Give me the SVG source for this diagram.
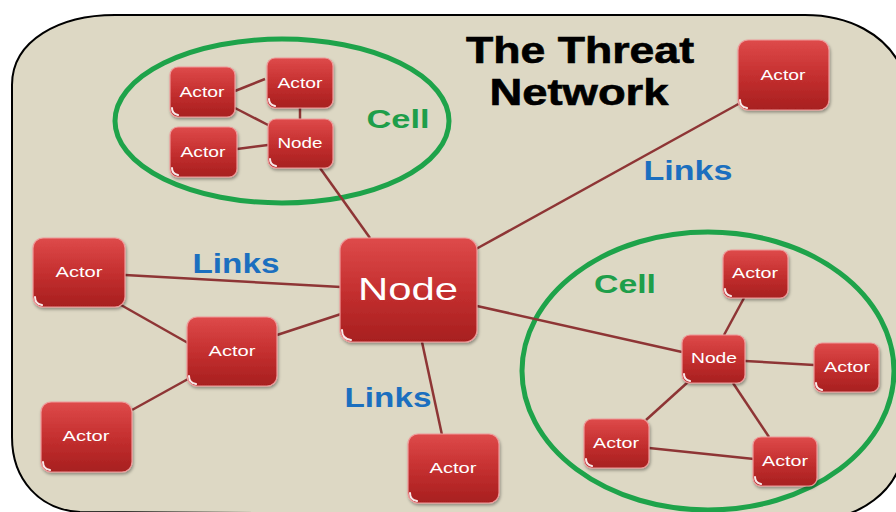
<svg xmlns="http://www.w3.org/2000/svg" width="896" height="512" viewBox="0 0 896 512">
<defs>
<linearGradient id="red" x1="0" y1="0" x2="0" y2="1">
<stop offset="0" stop-color="#de4a4a"/>
<stop offset="0.5" stop-color="#c53030"/>
<stop offset="1" stop-color="#a71f1f"/>
</linearGradient>
<filter id="sh" x="-20%" y="-20%" width="140%" height="140%">
<feDropShadow dx="1" dy="2" stdDeviation="1.5" flood-color="#000" flood-opacity="0.35"/>
</filter>
</defs>
<style>
.box{fill:url(#red);stroke:#ef9a9a;stroke-width:1.2;filter:url(#sh)}
.hl{fill:none;stroke:#fff;stroke-width:2;stroke-linecap:round;opacity:0.9}
.lbl{font-family:"Liberation Sans",Arial,sans-serif;fill:#fff;text-anchor:middle}
.ln{stroke:#8e3535;stroke-width:2.5;fill:none}
.cell{fill:none;stroke:#1ea34a;stroke-width:5}
.green{font-family:"Liberation Sans",Arial,sans-serif;font-weight:bold;fill:#1e9e4a;font-size:26px}
.blue{font-family:"Liberation Sans",Arial,sans-serif;font-weight:bold;fill:#1b6fbf;font-size:27px}
.title{font-family:"Liberation Sans",Arial,sans-serif;font-weight:bold;fill:#000;font-size:36px;stroke:#000;stroke-width:0.6}
</style>
<rect width="896" height="512" fill="#fff"/>
<path d="M12,85 C12,40 60,15 115,15 L805,15 C850,15 885,35 900,65 L900,465 C890,495 860,512 840,516 L80,512 C40,510 12,480 12,437 Z" fill="#ddd8c4" stroke="#000" stroke-width="2"/>
<g id="cells">
<ellipse class="cell" cx="282" cy="121" rx="167" ry="82"/>
<ellipse class="cell" cx="708" cy="371" rx="186" ry="139"/>
</g>
<g id="connectors">
<line class="ln" x1="235" y1="91" x2="265" y2="79"/>
<line class="ln" x1="235" y1="108" x2="270" y2="126"/>
<line class="ln" x1="300" y1="108" x2="300" y2="119"/>
<line class="ln" x1="237" y1="149" x2="268" y2="145"/>
<line class="ln" x1="320" y1="168" x2="370" y2="238"/>
<line class="ln" x1="476" y1="249" x2="742" y2="102"/>
<line class="ln" x1="125" y1="275" x2="341" y2="287"/>
<line class="ln" x1="121" y1="305" x2="188" y2="343"/>
<line class="ln" x1="277" y1="335" x2="341" y2="314"/>
<line class="ln" x1="188" y1="379" x2="132" y2="410"/>
<line class="ln" x1="422" y1="342" x2="442" y2="435"/>
<line class="ln" x1="477" y1="306" x2="682" y2="352"/>
<line class="ln" x1="724" y1="335" x2="744" y2="298"/>
<line class="ln" x1="745" y1="361" x2="814" y2="365"/>
<line class="ln" x1="688" y1="382" x2="646" y2="420"/>
<line class="ln" x1="733" y1="383" x2="769" y2="437"/>
<line class="ln" x1="649" y1="448" x2="754" y2="459"/>
</g>
<g id="title"><text class="title" x="580" y="63" text-anchor="middle" textLength="228" lengthAdjust="spacingAndGlyphs">The Threat</text>
<text class="title" x="579" y="105" text-anchor="middle" textLength="179" lengthAdjust="spacingAndGlyphs">Network</text></g>
<g id="labels">
<text class="green" x="398" y="128" text-anchor="middle" textLength="63" lengthAdjust="spacingAndGlyphs">Cell</text>
<text class="green" x="625" y="293" text-anchor="middle" textLength="62" lengthAdjust="spacingAndGlyphs">Cell</text>
<text class="blue" x="688" y="180" text-anchor="middle" textLength="89" lengthAdjust="spacingAndGlyphs">Links</text>
<text class="blue" x="236" y="273" text-anchor="middle" textLength="87" lengthAdjust="spacingAndGlyphs">Links</text>
<text class="blue" x="388" y="407" text-anchor="middle" textLength="87" lengthAdjust="spacingAndGlyphs">Links</text>
</g>
<g id="c1-actor1"><rect class="box" x="170" y="67" width="65" height="50" rx="8"/><path class="hl" d="M172,108 Q172,114 178,115"/><text class="lbl" x="202" y="97" font-size="15" textLength="45" lengthAdjust="spacingAndGlyphs">Actor</text></g>
<g id="c1-actor2"><rect class="box" x="267" y="58" width="66" height="50" rx="8"/><path class="hl" d="M269,99 Q269,105 275,106"/><text class="lbl" x="300" y="88" font-size="15" textLength="45" lengthAdjust="spacingAndGlyphs">Actor</text></g>
<g id="c1-actor3"><rect class="box" x="170" y="127" width="67" height="50" rx="8"/><path class="hl" d="M172,168 Q172,174 178,175"/><text class="lbl" x="203" y="157" font-size="15" textLength="45" lengthAdjust="spacingAndGlyphs">Actor</text></g>
<g id="c1-node"><rect class="box" x="268" y="119" width="65" height="49" rx="8"/><path class="hl" d="M270,159 Q270,165 276,166"/><text class="lbl" x="300" y="148" font-size="15" textLength="45" lengthAdjust="spacingAndGlyphs">Node</text></g>
<g id="main-node"><rect class="box" x="340" y="238" width="137" height="104" rx="12"/><path class="hl" d="M342,330 Q342,339 351,340"/><text class="lbl" x="408" y="300" font-size="32" textLength="100" lengthAdjust="spacingAndGlyphs">Node</text></g>
<g id="tr-actor"><rect class="box" x="738" y="40" width="91" height="70" rx="10"/><path class="hl" d="M740,100 Q740,107 747,108"/><text class="lbl" x="783" y="80" font-size="15" textLength="45" lengthAdjust="spacingAndGlyphs">Actor</text></g>
<g id="l-actor1"><rect class="box" x="33" y="238" width="92" height="69" rx="10"/><path class="hl" d="M35,297 Q35,304 42,305"/><text class="lbl" x="79" y="277" font-size="15" textLength="47" lengthAdjust="spacingAndGlyphs">Actor</text></g>
<g id="l-actor2"><rect class="box" x="187" y="317" width="90" height="69" rx="10"/><path class="hl" d="M189,376 Q189,383 196,384"/><text class="lbl" x="232" y="356" font-size="15" textLength="47" lengthAdjust="spacingAndGlyphs">Actor</text></g>
<g id="l-actor3"><rect class="box" x="41" y="402" width="91" height="70" rx="10"/><path class="hl" d="M43,462 Q43,469 50,470"/><text class="lbl" x="86" y="441" font-size="15" textLength="47" lengthAdjust="spacingAndGlyphs">Actor</text></g>
<g id="b-actor"><rect class="box" x="408" y="434" width="91" height="69" rx="10"/><path class="hl" d="M410,493 Q410,500 417,501"/><text class="lbl" x="453" y="473" font-size="15" textLength="47" lengthAdjust="spacingAndGlyphs">Actor</text></g>
<g id="c2-actor-top"><rect class="box" x="723" y="250" width="65" height="48" rx="8"/><path class="hl" d="M725,289 Q725,295 731,296"/><text class="lbl" x="755" y="278" font-size="15" textLength="46" lengthAdjust="spacingAndGlyphs">Actor</text></g>
<g id="c2-node"><rect class="box" x="682" y="335" width="63" height="48" rx="8"/><path class="hl" d="M684,374 Q684,380 690,381"/><text class="lbl" x="714" y="363" font-size="15" textLength="46" lengthAdjust="spacingAndGlyphs">Node</text></g>
<g id="c2-actor-right"><rect class="box" x="814" y="343" width="65" height="49" rx="8"/><path class="hl" d="M816,383 Q816,389 822,390"/><text class="lbl" x="847" y="372" font-size="15" textLength="46" lengthAdjust="spacingAndGlyphs">Actor</text></g>
<g id="c2-actor-bl"><rect class="box" x="584" y="419" width="65" height="49" rx="8"/><path class="hl" d="M586,459 Q586,465 592,466"/><text class="lbl" x="616" y="448" font-size="15" textLength="46" lengthAdjust="spacingAndGlyphs">Actor</text></g>
<g id="c2-actor-br"><rect class="box" x="753" y="437" width="64" height="49" rx="8"/><path class="hl" d="M755,477 Q755,483 761,484"/><text class="lbl" x="785" y="466" font-size="15" textLength="46" lengthAdjust="spacingAndGlyphs">Actor</text></g>
</svg>
